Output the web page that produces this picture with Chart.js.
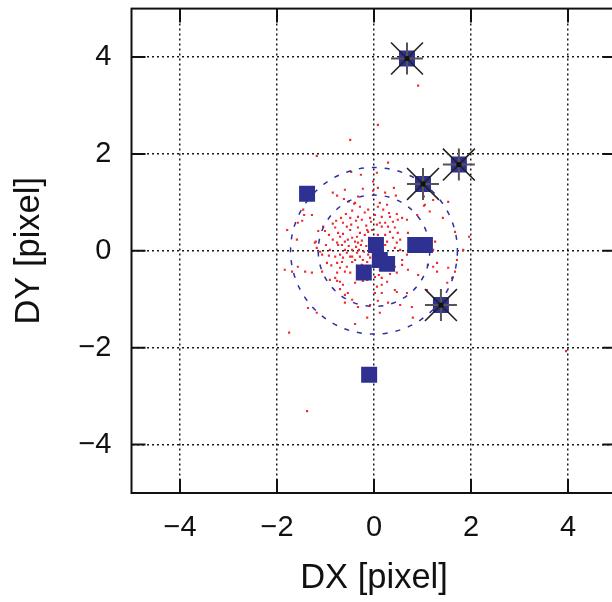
<!DOCTYPE html>
<html>
<head>
<meta charset="utf-8">
<script src="https://cdn.jsdelivr.net/npm/chart.js@4.4.1/dist/chart.umd.min.js"></script>
<style>
  html, body { margin: 0; padding: 0; background: #fff; overflow: hidden; }
  #wrap { width: 612px; height: 602px; overflow: hidden; }
  canvas { display: block; }
</style>
</head>
<body>
<div id="wrap"><canvas id="chart" width="625" height="602"></canvas></div>
<script>
// ─── Data ────────────────────────────────────────────────────────
const axisMin = -5;
const axisMax = 5;
const xTicks = [-4, -2, 0, 2, 4];
const yTicks = [-4, -2, 0, 2, 4];

// small red offsets
const dotX = [
  -0.49, 0.08, 0.91, -1.75, -1.38, 3.96, -1.18, 0.29, 0.06, -0.47,
  -0.27, -0.02, -0.60, -0.23, -0.85, -0.76, -0.62, -0.33, -0.02, 0.08,
  0.41, 0.23, 0.45, 1.03, 1.22, 1.03, 1.53, -0.52, -0.39, 0.12,
  -1.28, -1.46, -1.48, -1.15, -1.05, -0.85, -0.64, -0.49, -0.33, -0.08,
  0.16, 0.33, 0.49, 0.68, 0.89, 1.15, 1.42, 1.67, 1.96, -1.79,
  -1.59, -1.22, -1.84, -1.57, -1.28, -1.42, -0.97, -0.91, -0.85, -0.74,
  -1.07, -0.66, -0.56, -0.45, -0.33, -0.14, -0.80, -0.70, -0.91, -0.39,
  -0.54, -0.14, 0.06, 0.16, 0.27, 0.47, 0.70, 0.91, 1.22, 1.30,
  1.53, 1.61, 1.51, 1.09, 0.68, 0.47, 0.16, -0.45, -0.60, -0.33,
  -0.08, 0.29, 0.54, 0.78, 0.12, 0.80, -0.39, -1.36, -1.18, 0.27,
  0.08, 0.19, 0.31, 0.47, 0.58, 0.39, 0.23, 0.12, 0.06, 0.16,
  0.29, 0.43, 0.33, 0.49, 0.70, 0.23, 0.08, 0.39, 0.54, 0.27,
  0.47, 0.43, 0.54, 0.68, 0.58, 0.58, 0.43, 0.29, 0.33, 1.05,
  1.26, 1.22, 1.30, 1.11, 1.67, 1.71, 1.84, -0.76, -0.64, -0.70,
  -0.60, -0.14, 0.02, 0.02, -0.23, -0.35, 0.10, 0.16, 0.43, 0.08,
  -0.41, -1.44, -1.57, -0.19, -0.25, -0.37, -0.47, -0.56, -0.49, -1.01,
  -0.74, -0.64, -1.20, -0.76, -0.66, -0.60, -0.54, -0.45, -0.35, -0.29,
  -0.19, -0.12, -0.04, -1.18, -1.11, -0.93, -0.80, -0.70, -0.64, -0.56,
  -0.49, -0.39, -0.35, -0.29, -0.23, -0.14, -0.08, -0.88, -0.76, -0.70,
  -0.45, -0.35, -0.25, -1.69, -1.07, -0.76, -0.60, -0.49, -0.33, -0.25,
  -0.16, -0.10, -0.06, -0.37, -0.45, -0.31, -0.21, -0.12, -0.04, -0.39,
  -0.52, -0.27, -0.16, -0.06, 0.02, -0.12, -0.29, -0.45, -0.58, -0.68,
  -0.78, -0.93, -0.99, -0.60, -0.70, -0.80, 0.08, 0.19, 0.04, 0.23,
  0.33, 0.16, 0.12
];
const dotY = [
  2.29, 2.60, 3.41, -1.69, -3.31, -2.07, 1.96, 1.82, 1.61, 1.63,
  1.57, 1.43, 1.26, 1.28, 1.20, 1.14, 1.07, 1.12, 1.24, 1.30,
  1.30, 1.20, 1.14, 1.12, 1.05, 0.93, 1.01, 1.02, 0.99, 0.99,
  0.74, 0.85, 0.62, 0.41, 0.50, 0.56, 0.58, 0.68, 0.70, 0.68,
  0.70, 0.70, 0.64, 0.64, 0.74, 0.81, 0.68, 0.39, 0.29, 0.43,
  0.23, 0.17, -0.39, -0.33, -0.45, -0.43, -0.25, 0.02, 0.23, 0.12,
  -0.08, -0.23, -0.33, -0.12, 0.17, 0.43, -0.56, -0.64, -0.60, -0.66,
  -0.87, -0.60, -0.74, -0.70, -0.64, -0.45, -0.39, -0.50, -0.33, -0.43,
  -0.35, -0.56, -0.66, -0.81, -0.87, -0.85, -0.87, -1.01, -1.07, -1.16,
  -1.12, -1.07, -1.12, -1.16, -1.28, -1.38, -1.51, -1.18, -1.28, 0.95,
  0.91, 0.85, 0.78, 0.76, 0.68, 0.60, 0.58, 0.58, 0.54, 0.50,
  0.50, 0.48, 0.39, 0.37, 0.37, 0.33, 0.33, 0.27, 0.23, 0.19,
  0.17, 0.06, 0.02, -0.08, -0.19, -0.29, -0.33, -0.39, -0.48, 0.95,
  0.19, 0.02, -0.25, -0.29, -0.43, -0.19, 0.02, -0.62, -0.70, -0.79,
  -0.91, -1.38, -0.87, -0.54, -0.62, -0.54, -0.50, -0.56, -0.81, -1.03,
  0.97, 0.74, 0.58, 0.79, 0.64, 0.62, 0.54, 0.50, 0.43, 0.41,
  0.37, 0.35, 0.19, 0.17, 0.12, 0.19, 0.23, 0.27, 0.29, 0.37,
  0.33, 0.39, 0.43, 0.06, -0.02, -0.10, -0.12, -0.08, -0.14, -0.04,
  -0.12, -0.19, -0.04, -0.12, -0.19, -0.23, -0.14, -0.30, -0.25, -0.35,
  -0.23, -0.31, -0.29, -0.43, -0.43, -0.45, -0.43, -0.45, 0.48, 0.21,
  0.10, 0.27, 0.02, 0.08, 0.02, 0.02, -0.02, -0.08, 0.17, 0.19,
  0.10, 0.12, 0.52, 0.60, 0.74, 0.85, 0.91, 0.83, 0.76, 0.68,
  0.62, 0.33, 0.12, 0.02, 0.29, 0.48, 0.02, -0.10, -0.27, 0.12,
  -0.19, 0.23, -0.39
];

// blue squares
const sqX = [0.68, 1.75, 1.01, -1.38, 0.04, 0.12, 0.27, -0.21, 0.85, 1.05, 1.38, -0.10];
const sqY = [3.97, 1.78, 1.38, 1.18, 0.12, -0.19, -0.27, -0.45, 0.12, 0.12, -1.12, -2.56];

// squares that carry a star
const starX = [0.68, 1.75, 1.01, 1.38];
const starY = [3.97, 1.78, 1.38, -1.12];

// dashed rings
const ringCenter = [0, 0];
const ringRadius = [1.15, 1.72];

const FONT = "'Liberation Sans', Arial, Helvetica, sans-serif";
const TICK_LEN = 14;
const GRID = '#1a1a1a';

const pts = (xs, ys) => xs.map((x, i) => ({ x: x, y: ys[i] }));
const fmt = v => String(v).replace('-', '\u2212');

// ─── Plugins ─────────────────────────────────────────────────────
const rings = {
  id: 'rings',
  afterDatasetDraw(chart, args) {
    if (args.index !== 0) return;
    const { ctx, scales: { x, y } } = chart;
    const cx = x.getPixelForValue(ringCenter[0]);
    const cy = y.getPixelForValue(ringCenter[1]);
    ctx.save();
    ctx.strokeStyle = '#3030a0';
    ctx.lineWidth = 1.5;
    ctx.setLineDash([5, 8]);
    ringRadius.forEach(r => {
      const rx = x.getPixelForValue(ringCenter[0] + r) - cx;
      const ry = cy - y.getPixelForValue(ringCenter[1] + r);
      ctx.beginPath();
      ctx.ellipse(cx, cy, rx, ry, 0, 0, Math.PI * 2);
      ctx.stroke();
    });
    ctx.restore();
  }
};

const frame = {
  id: 'frame',
  afterDraw(chart) {
    const { ctx, chartArea: a, scales: { x, y } } = chart;
    ctx.save();
    ctx.strokeStyle = '#111';
    ctx.lineWidth = 2;
    ctx.beginPath();
    xTicks.forEach(v => {
      const px = x.getPixelForValue(v);
      ctx.moveTo(px, a.bottom); ctx.lineTo(px, a.bottom - TICK_LEN);
      ctx.moveTo(px, a.top); ctx.lineTo(px, a.top + TICK_LEN);
    });
    yTicks.forEach(v => {
      const py = y.getPixelForValue(v);
      ctx.moveTo(a.left, py); ctx.lineTo(a.left + TICK_LEN, py);
      ctx.moveTo(a.right, py); ctx.lineTo(a.right - TICK_LEN, py);
    });
    ctx.stroke();
    ctx.strokeRect(a.left, a.top, a.right - a.left, a.bottom - a.top);
    ctx.restore();
  }
};

// ─── Chart ───────────────────────────────────────────────────────
// the scales would otherwise ask for room around their end labels
function noPad(s) {
  s.paddingTop = 0; s.paddingBottom = 0; s.paddingLeft = 0; s.paddingRight = 0;
}

function axis(tickList, extra) {
  return Object.assign({
    type: 'linear',
    min: axisMin, max: axisMax,
    afterBuildTicks: s => { s.ticks = tickList.map(v => ({ value: v })); },
    grid: { color: GRID, lineWidth: 1.5, drawTicks: false },
    border: { display: false, dash: [2, 3] },
    ticks: {
      color: '#111', autoSkip: false, maxRotation: 0,
      font: { family: FONT, size: 29 },
      callback: v => fmt(v)
    }
  }, extra);
}

const xAxis = axis(xTicks, {
  afterFit: s => { s.height = 109; noPad(s); },
  title: { display: true, text: 'DX [pixel]', color: '#111', padding: { top: 0, bottom: 3 }, font: { family: FONT, size: 34.5 } }
});
xAxis.ticks.padding = 18;

const yAxis = axis(yTicks, {
  afterFit: s => { s.width = 131.5; noPad(s); },
  title: { display: true, text: 'DY [pixel]', color: '#111', padding: { top: 9, bottom: 0 }, font: { family: FONT, size: 34.5 } }
});
yAxis.ticks.padding = 20;

new Chart(document.getElementById('chart'), {
  type: 'scatter',
  data: {
    datasets: [
      {
        data: pts(dotX, dotY),
        pointStyle: 'rect',
        pointRadius: 1.5,
        backgroundColor: '#ee2a2e',
        borderWidth: 0,
        order: 4
      },
      {
        data: pts(sqX, sqY),
        pointStyle: 'rect',
        pointRadius: 11.3,
        backgroundColor: '#2e3192',
        borderWidth: 0,
        order: 3
      },
      {
        data: pts(starX, starY),
        pointStyle: 'cross',
        pointRadius: 16,
        borderColor: '#555',
        borderWidth: 2,
        order: 2
      },
      {
        data: pts(starX, starY),
        pointStyle: 'crossRot',
        pointRadius: 22.6,
        borderColor: '#222',
        borderWidth: 1.6,
        order: 1
      },
      {
        data: pts(starX, starY),
        pointStyle: 'circle',
        pointRadius: 2.6,
        backgroundColor: '#111',
        borderWidth: 0,
        order: 0
      }
    ]
  },
  options: {
    responsive: false,
    animation: false,
    events: [],
    layout: { autoPadding: false, padding: { top: 8.6, right: 8.5, left: 0, bottom: 0 } },
    plugins: { legend: { display: false }, tooltip: { enabled: false } },
    scales: { x: xAxis, y: yAxis }
  },
  plugins: [rings, frame]
});
</script>
</body>
</html>
